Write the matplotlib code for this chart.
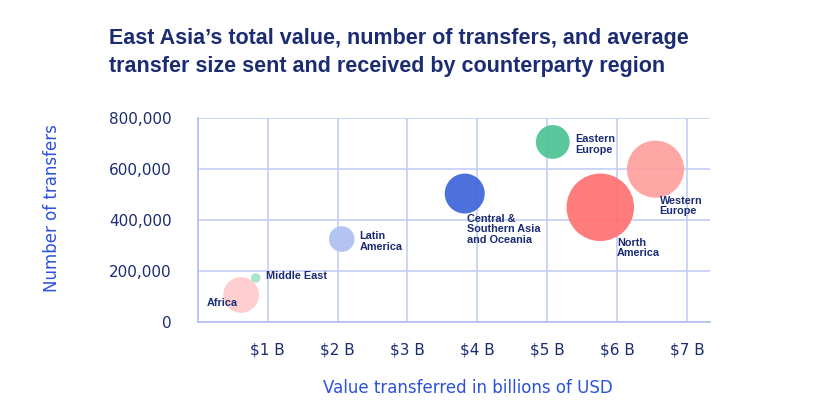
import matplotlib
matplotlib.use("Agg")
import matplotlib.pyplot as plt

# ---- data ----
regions = ["Africa", "Middle East", "Latin\nAmerica", "Central &\nSouthern Asia\nand Oceania",
           "Eastern\nEurope", "North\nAmerica", "Western\nEurope"]
value_billion_usd = [0.62, 0.83, 2.06, 3.82, 5.08, 5.76, 6.55]
num_transfers = [105000, 172000, 325000, 504000, 707000, 450000, 600000]
# relative average transfer size (bubble area units)
avg_transfer_size = [320, 23, 164, 400, 286, 1142, 818]
x_ticks = [1, 2, 3, 4, 5, 6, 7]
x_tick_labels = ["$1 B", "$2 B", "$3 B", "$4 B", "$5 B", "$6 B", "$7 B"]
y_ticks = [0, 200000, 400000, 600000, 800000]
y_tick_labels = ["0", "200,000", "400,000", "600,000", "800,000"]

# ---- style ----
colors = ["#FFCCCC", "#A3E4C6", "#AFC0F1", "#3F66DA", "#4EC396", "#FF7272", "#FFA09E"]
label_offsets = [(-24.5, -5.5), (7.1, 1.4), (12.9, -1.8), (1.7, -25.6),
                 (16.3, -1.9), (11.9, -29.1), (3.0, -26.4)]
navy = "#1C2C73"
blue = "#2B52D9"
grid_c = "#C3CEF5"
spine_c = "#AFBEF1"

W, H = 828, 416
fig = plt.figure(figsize=(W / 100, H / 100), dpi=100)
fig.patch.set_facecolor("white")
ax = fig.add_axes([197.8 / W, 1 - 321.7 / H, (710 - 197.8) / W, (321.7 - 118.3) / H])

ax.set_xlim(0, 7.33)
ax.set_ylim(0, 800000)
ax.set_xticks(x_ticks)
ax.set_xticklabels(x_tick_labels)
ax.set_yticks(y_ticks)
ax.set_yticklabels(y_tick_labels)
ax.tick_params(axis="both", length=0, labelsize=11, labelcolor=navy)
ax.tick_params(axis="x", pad=15)
ax.tick_params(axis="y", pad=19)
ax.grid(True, color=grid_c, linewidth=1.2, zorder=0)
ax.set_axisbelow(True)
for s in ["top", "right"]:
    ax.spines[s].set_visible(False)
for s in ["left", "bottom"]:
    ax.spines[s].set_color(spine_c)
    ax.spines[s].set_linewidth(1.2)

sizes = [v * 2.07 for v in avg_transfer_size]
ax.scatter(value_billion_usd, num_transfers, s=sizes, c=colors, alpha=0.93,
           edgecolors="none", zorder=3, clip_on=False)

for i, r in enumerate(regions):
    ax.annotate(r, (value_billion_usd[i], num_transfers[i]), xytext=label_offsets[i],
                textcoords="offset points", ha="left", va="center", fontsize=7.8,
                fontweight="bold", family="Liberation Sans", color=navy,
                linespacing=1.05, zorder=4)

fig.text(109 / W, 1 - 52.5 / H, "East Asia\u2019s total value, number of transfers, and average\n"
         "transfer size sent and received by counterparty region",
         ha="left", va="center", fontsize=15.5, fontweight="bold", family="Liberation Sans",
         color=navy, linespacing=1.4)

fig.text(52 / W, 1 - 208 / H, "Number of transfers", rotation=90, ha="center", va="center",
         fontsize=12, color=blue)
fig.text(467.6 / W, 1 - 388 / H, "Value transferred in billions of USD", ha="center",
         va="center", fontsize=12, color=blue)

fig.savefig("out.png", dpi=100, facecolor="white")
